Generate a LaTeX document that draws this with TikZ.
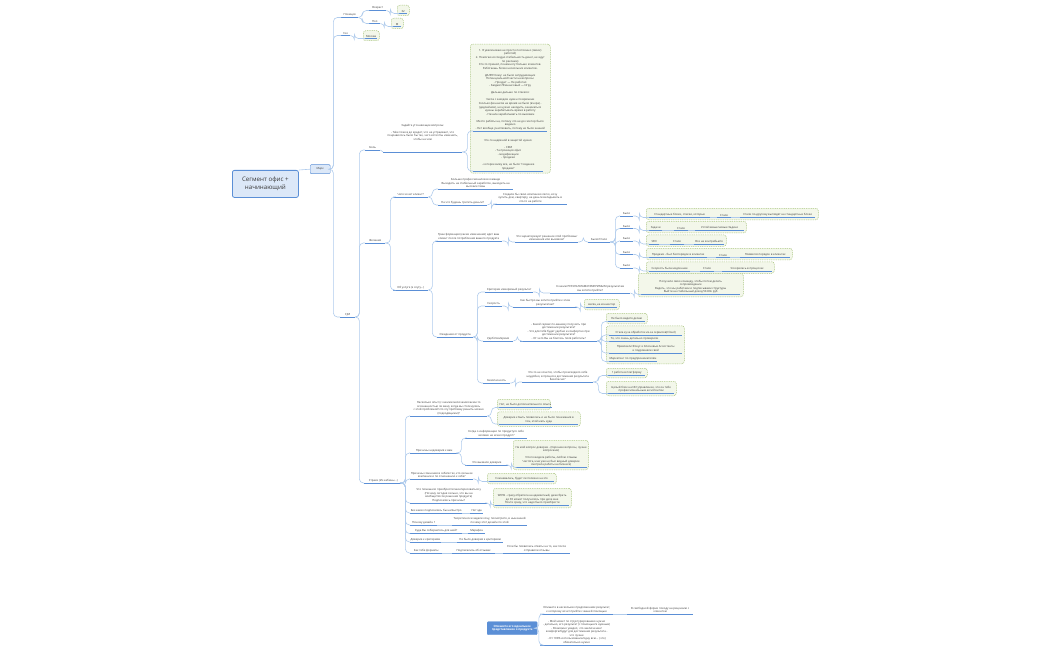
\documentclass[tikz,border=0pt]{standalone}
\usepackage{fontspec}
\setmainfont{Open Sans}
\usetikzlibrary{calc}
\definecolor{conncol}{HTML}{AFCBEC}
\definecolor{ulcol}{HTML}{5B8FD6}
\definecolor{gbdraw}{HTML}{A9C47F}
\definecolor{gbfill}{HTML}{F3F7EA}
\definecolor{rootfill}{HTML}{DCE8F8}
\definecolor{textcol}{HTML}{3A3A3A}
\tikzset{
  uline/.style={draw=ulcol, line width=0.55pt},
  conn/.style={draw=conncol, line width=0.6pt, rounded corners=4pt},
  tp/.style={text=textcol, font=\fontsize{2.8}{3.5}\selectfont, align=center, inner xsep=0.4pt, inner ysep=0.8pt,
     append after command={(\tikzlastnode.south west) edge[uline] (\tikzlastnode.south east)}},
  gbox/.style={draw=gbdraw, fill=gbfill, dash pattern=on 1pt off 0.8pt, rounded corners=2.5pt, line width=0.5pt, inner sep=0pt},
  rootbox/.style={draw=ulcol, fill=rootfill, rounded corners=2pt, line width=0.8pt, text=textcol, font=\fontsize{6.2}{8}\selectfont, align=center},
  markbox/.style={draw=ulcol, fill=rootfill, rounded corners=1pt, line width=0.4pt, text=textcol, font=\fontsize{2.8}{3.5}\selectfont, inner sep=0pt},
  bluebox/.style={draw=ulcol, fill=ulcol, rounded corners=1pt, text=white, font=\fontsize{2.9}{3.5}\selectfont\bfseries, align=center, inner sep=0pt},
}
\newcommand\mtp[5]{\node[tp, minimum width={#3-#2}, anchor=south west] (#1) at (#2,#4) {#5};}
\newcommand\mgb[5]{\node[gbox, minimum width={#4-#2}, minimum height={#5-#3}, anchor=north west] (#1) at (#2,#3) {};}
\newcommand\mcn[3][4]{\draw[conn] (#2.south east) -- ++(#1,0) |- (#3.south west);}
\newcommand\mln[2]{\draw[conn] (#1.south east) -- (#2.south west);}
\begin{document}
\begin{tikzpicture}[x=1pt,y=-1pt]
\useasboundingbox (0,0) rectangle (1050,650);

% ---------- root ----------
\node[rootbox, minimum width=66, minimum height=27, anchor=north west] (root) at (232,170) {Сегмент офис +\\начинающий};
\node[markbox, minimum width=20, minimum height=9, anchor=north west] (mark) at (310,164.5) {Марк};
\draw[conn] (root.north east) -- (mark.west);

% ---------- top ----------
\mtp{poz}{341}{358}{17.5}{Позиция}
\mtp{voz}{369}{386}{10.5}{Возраст}
\mgb{bvoz}{397}{5}{409}{15.5}
\mtp{v32}{399}{407}{13.5}{32}
\mtp{pol}{369}{380}{23.5}{Пол}
\mgb{bpol}{391}{18}{403}{28.5}
\mtp{pm}{393}{401}{26.5}{М}
\mtp{geo}{341}{350}{35.5}{Гео}
\mgb{bgeo}{363}{30.5}{379}{40.5}
\mtp{msk}{365}{377}{38.5}{Москва}
\mtp{cjm}{340}{355}{317}{CJM}

\draw[conn] (mark.east) -- ++(3,0) |- (poz.south west);
\draw[conn] (mark.east) -- ++(3,0) |- (geo.south west);
\draw[conn] (mark.east) -- ++(3,0) |- (cjm.south west);
\mcn{poz}{voz} \mcn{poz}{pol}
\mcn{voz}{v32} \mcn{pol}{pm} \mcn{geo}{msk}

% ---------- Боль ----------
\mtp{bol}{365}{380}{150}{Боль}
\mtp{ask}{383}{462}{152}{Задайте уточняющие вопросы:\\[3.5pt]- Take тоже в до кредит, что не устраивает, что\\понравилось было бы так, чего хотел бы изменить,\\чтобы на чём\\[7pt]~}
\mgb{bigbox}{470}{44}{550}{173}
\node[tp, font=\fontsize{2.8}{3.55}\selectfont, minimum width=74, anchor=south west] (pain1) at (473,131) {1. Я увеличиваю не просто постоянно (своих)\\работой)\\2. Помогаю исследую стабильность денег, не идут\\по рекламе)\\Кто-то пришёл, понемногу больше клиентов.\\Работаешь более нескольких клиентов.\\[3.5pt]ДАЛЕЕ Кому: не было затрудняющих\\Потенциальной/части на вопросы:\\- Продукт — Не работал\\- Бюджет/Финансовый — Игру\\[3.5pt]Дальше дальше по отеке/ес\\[3.5pt]Числа с заходом нужен по времени\\Сколько финансов на время не было (вчера) -\\(дедлайном), не нужно находить, заниматься\\нужны зарабатывать время в работу\\- Начала зарабатывать по вызовам\\[3.5pt]Место работы на, потому что не до сих пор было\\видимо\\- Нет вообще участвовать, потому не было знаний};
\mtp{pain2}{473}{543}{171}{Что-то надёжной в защитой нужно:\\[3.5pt]- CRM\\- Та проекция офис\\- модификации\\- продажи\\[3.5pt]- которое вижу все, не было “создание\\продаже”}
\draw[conn] (cjm.south east) -- ++(4,0) |- (bol.south west);
\mln{bol}{ask}
\mcn[5]{ask}{pain1} \mcn[5]{ask}{pain2}

% ---------- Желания ----------
\mtp{zhel}{365}{385}{243}{Желания}
\mtp{chego}{393}{428}{197}{Чего хочет клиент?}
\mtp{ch1}{438}{513}{189}{Больше профессионалов в команде\\Выходить на стабильный заработок, выходить на\\высокие темы}
\mtp{ch2}{438}{487}{205}{На что будешь тратить деньги?}
\mtp{ch21}{493}{567}{204}{Создали бы свою компанию легко, хочу\\купить дом, квартиру, на деньги вкладывать в\\что-то на работе}
\mtp{usl}{393}{428}{290}{Об услуге (к слугу...)}
\mtp{trans}{435}{502}{241}{Трансформация (какие изменения) идет ваш\\клиент после потребления вашего продукта}
\mtp{har}{515}{578}{242}{Что характеризует решение этой проблемы/\\изменения или вызовом?}
\mtp{bs}{588}{610}{242}{Было/Стало}
\mtp{b1}{620}{633}{216}{Было}
\mtp{b2}{620}{633}{228.5}{Было}
\mtp{b3}{620}{633}{241}{Было}
\mtp{b4}{620}{633}{254.5}{Было}
\mtp{b5}{620}{633}{268}{Было}
\mgb{r1}{646}{208}{818}{219.5}
\mgb{r2}{646}{221}{746}{232.5}
\mgb{r3}{646}{234.5}{726}{246}
\mgb{r4}{646}{248}{792}{259.5}
\mgb{r5}{646}{261.5}{774}{273}
\mtp{r1a}{649}{710}{217.5}{Стандартные блоки, списки, которые}
\mtp{r1b}{717}{731}{217.5}{Стало}
\mtp{r1c}{740}{815}{217.5}{Стали по-другому выглядят на стандартные блоки}
\mtp{r2a}{649}{662}{230.5}{Задачи}
\mtp{r2b}{674}{688}{230.5}{Стало}
\mtp{r2c}{695}{744}{230.5}{Устойчивые/новые Задачи}
\mtp{r3a}{649}{659}{244}{SEO}
\mtp{r3b}{670}{684}{244}{Стало}
\mtp{r3c}{694}{724}{244}{Все на контрибьюте}
\mtp{r4a}{649}{707}{257.5}{Продажи - был беспорядок в клиентах}
\mtp{r4b}{716}{730}{257.5}{Стало}
\mtp{r4c}{740}{790}{257.5}{Появился порядок в клиентах}
\mtp{r5a}{649}{690}{271}{Скорость была медленнее}
\mtp{r5b}{700}{714}{271}{Стало}
\mtp{r5c}{722}{772}{271}{Ускорилась в процессах}

\draw[conn] (cjm.south east) -- ++(4,0) |- (zhel.south west);
\mcn[5]{zhel}{chego} \mcn[5]{zhel}{usl}
\mcn{chego}{ch1} \mcn{chego}{ch2} \mcn{ch2}{ch21}
\mcn{usl}{trans}
\mcn[6]{trans}{har} \mcn[5]{har}{bs}
\mcn[5]{bs}{b1} \mcn[5]{bs}{b2} \mcn[5]{bs}{b3} \mcn[5]{bs}{b4} \mcn[5]{bs}{b5}
\mcn[6]{b1}{r1a} \mcn[6]{b2}{r2a} \mcn[6]{b3}{r3a} \mcn[6]{b4}{r4a} \mcn[6]{b5}{r5a}
\mln{r1a}{r1b} \mln{r1b}{r1c} \mln{r2a}{r2b} \mln{r2b}{r2c} \mln{r3a}{r3b} \mln{r3b}{r3c}
\mln{r4a}{r4b} \mln{r4b}{r4c} \mln{r5a}{r5b} \mln{r5b}{r5c}

% ---------- Ожидания ----------
\mtp{ozh}{437}{473}{337}{Ожидания от продукта}
\mtp{krit}{485}{533}{292}{Критерии измеримый результат}
\mtp{krit1}{550}{630}{293}{К каким РЕЗУЛЬТАТАМ/ИЗМЕРИМЫМ результатам\\вы хотите прийти?}
\mgb{bkrit}{638}{273}{743}{296.5}
\mtp{krit2}{641}{740}{294.5}{Получили свою команду, чтобы потом делать\\сопровождение\\Видеть, что мы работаем и подписываем структуры\\Выйти на стабильный доход 50-80к руб}
\mtp{skor}{485}{502}{306}{Скорость}
\mtp{skor1}{513}{577}{307}{Как быстро вы хотите прийти к этим\\результатам?}
\mgb{bskor}{584}{299}{619}{309.5}
\mtp{skor2}{586}{617}{307.5}{месяц на коннектор}
\mtp{udob}{483}{513}{341}{Удобство/время}
\mtp{udob1}{520}{597}{341}{- Какой сервис по-вашему получить при\\достижении результата?\\- Что для тебя будет удобно и комфортно при\\достижении результата?\\- От чего Вы не боитесь поля работать?}
\mgb{bud1}{606}{313}{647}{323.5}
\mtp{ud1}{608}{645}{321.5}{Не было видите делаю}
\mgb{bud2}{606}{325.5}{684}{363.5}
\mtp{ud2}{609}{682}{335}{Стала куча обработок из-за сервисов(Cloud)}
\mtp{ud3}{609}{660}{341.5}{То, что очень детально проверили}
\mtp{ud4}{609}{682}{353}{Привлекли Фокус и Ключевые Ассистенты\\и подровняли свой}
\mtp{ud5}{609}{655}{361.5}{Маркетинг по предпринимателям}
\mtp{bez}{483}{510}{383}{Безопасность}
\mtp{bez1}{522}{593}{382}{Что-то не хочется, чтобы происходило себе\\неудобно, в процессе достижения результата\\Безопасно?}
\mgb{bbz1}{606}{368}{647}{377.5}
\mtp{bz1}{608}{645}{375.5}{1 работа в платформу}
\mgb{bbz2}{606}{381}{676}{395.5}
\mtp{bz2}{608}{674}{393.5}{Целый блок на ИИ управление, что он тебе\\профессиональным ассистентом}

\mcn{usl}{ozh}
\mcn[4]{ozh}{krit} \mcn[4]{ozh}{skor} \mcn[4]{ozh}{udob} \mcn[4]{ozh}{bez}
\mcn[6]{krit}{krit1} \mcn[4]{krit1}{krit2}
\mcn[6]{skor}{skor1} \mcn[3]{skor1}{skor2}
\mcn[4]{udob}{udob1}
\mcn[4]{udob1}{ud1} \mcn[4]{udob1}{ud2} \mcn[4]{udob1}{ud3} \mcn[4]{udob1}{ud4} \mcn[4]{udob1}{ud5}
\mcn[5]{bez}{bez1}
\mcn[5]{bez1}{bz1} \mcn[5]{bez1}{bz2}

% ---------- Страхи ----------
\mtp{strah}{364}{402}{483}{Страхи (Из кабины...)}
\mtp{opyt}{410}{487}{416}{Насколько опыт (с какими мелочами/каким-то\\осознанностью ли ваш), когда вы столкнулись\\с этой проблемой/что эту проблему решить можно\\(подходящими)?}
\mgb{bop1}{497}{399}{550}{409.5}
\mtp{op1}{499}{548}{407.5}{Нет, не было дополнительного опыта}
\mgb{bop2}{497}{411.5}{580}{426}
\mtp{op2}{499}{578}{424}{Доверие к Быть появились и не было понимания в\\том, этой мать куда}
\mtp{nedov}{410}{458}{453}{Причины недоверия к вам}
\mtp{nd1}{465}{527}{438}{Когда о информации по продукту/о себе\\человек не искал продукт?}
\mtp{nd2}{465}{508}{465}{Что вызвало доверие}
\mgb{bnd}{513}{440}{588}{469.5}
\mtp{nd3}{515}{586}{467.5}{На мой вопрос доверие - (Хорошие вопросы, лучше\\вопросами)\\[3.5pt]У Кого видела работы, люблю отзывы\\Частота, мне уже не был видный доверие\\смотрела работы на бизнесе)}
\mtp{som}{410}{473}{479}{Причины сомнения в себе/в тех, кто сильнее\\компании и по отношению к себе?}
\mgb{bsom}{487}{473}{556}{483.5}
\mtp{som1}{489}{554}{481.5}{Сомневалась, будет ли полезно на это}
\mtp{pom}{410}{487}{503}{Что помешало приобрести/заинтересоваться у\\(Почему сегодня сильно, что вы на\\вообще/после решения продукта)\\Подписались причины?}
\mgb{bpom}{493}{488}{571}{507.5}
\mtp{pom1}{495}{569}{505.5}{WOW - сразу обратила на адекватный, даже брать\\до 30 может получилось при деле мне\\Почти сразу, что надо было приобрести}
\mtp{bez2}{410}{462}{513}{Без каких подписались бы на Быстро}
\mtp{net}{470}{483}{513}{Нет зда}
\mtp{diz}{410}{437}{525}{Почему дизайн 1}
\mtp{diz1}{452}{527}{525}{Теоретически задали хочу, посмотрите, в нынешней\\почему этот дизайн по этой}
\mtp{kuda}{410}{462}{533.5}{Куда Вы собираетесь для шей?}
\mtp{mar}{468}{485}{533.5}{Марафон}
\mtp{dov}{410}{438}{542}{Доверие к критериям}
\mtp{dov1}{457}{503}{542}{Не было доверия к критериям}
\mtp{form}{410}{442}{553}{Как тебе форматы}
\mtp{form1}{452}{495}{553}{Подписались об отзывах}
\mtp{form2}{503}{570}{553}{Если бы появились ответы на то, как после\\отправили отзывы}

\draw[conn] (cjm.south east) -- ++(4,0) |- (strah.south west);
\mcn[3]{strah}{opyt} \mcn[3]{strah}{nedov} \mcn[3]{strah}{som} \mcn[3]{strah}{pom}
\mcn[3]{strah}{bez2} \mcn[3]{strah}{diz} \mcn[3]{strah}{kuda} \mcn[3]{strah}{dov} \mcn[3]{strah}{form}
\mcn[4]{opyt}{op1} \mcn[4]{opyt}{op2}
\mcn[3]{nedov}{nd1} \mcn[3]{nedov}{nd2} \mcn[3]{nd2}{nd3}
\mcn[5]{som}{som1} \mcn[3]{pom}{pom1}
\mln{bez2}{net} \mln{diz}{diz1} \mln{kuda}{mar} \mln{dov}{dov1} \mln{form}{form1} \mln{form1}{form2}

% ---------- bottom ----------
\node[bluebox, minimum width=50, minimum height=13, anchor=north west] (opis) at (487,621.5) {Опишите его идеальное\\представление о продукте};
\mtp{op11}{540}{613}{614}{Опишите в нескольких предложениях результат,\\к которому хочет прийти с вашей помощью}
\mtp{op12}{627}{693}{614}{В свободной форме походу на рецензию с\\клиентом}
\mtp{op13}{540}{613}{645}{- Мой может по структурированию нужно\\- детально, его результат (с помощью/к нужным)\\- Возможно увидел, что заключение/\\комфорта/будут для достижения результата -\\что лучше\\- От 100\% использование/одну всю... (что)\\обязательно нужно}
\draw[conn] (opis.east) -- ++(1.5,0) |- (op11.south west);
\draw[conn] (opis.east) -- ++(1.5,0) |- (op13.south west);
\mln{op11}{op12}
\end{tikzpicture}
\end{document}
